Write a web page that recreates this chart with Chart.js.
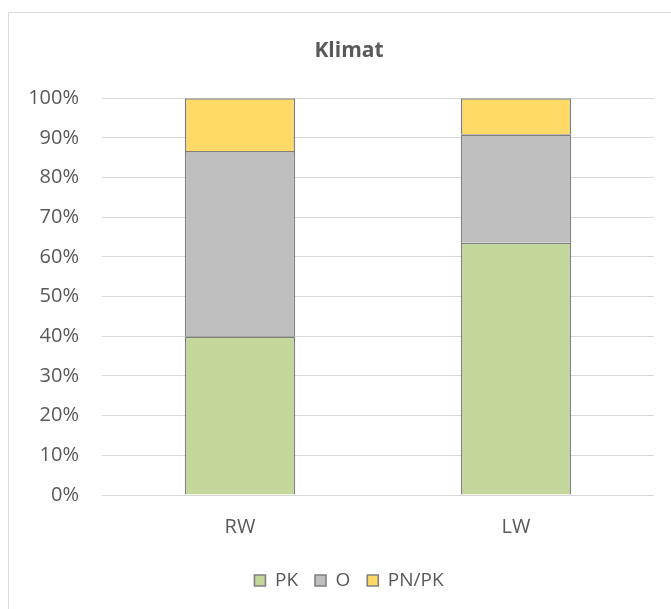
<!DOCTYPE html>
<html lang="sv">
<head>
  <meta charset="UTF-8" />
  <title>Klimat</title>
  <script src="https://cdn.jsdelivr.net/npm/chart.js"></script>
  <style>
    html, body { margin: 0; padding: 0; background: #fff; overflow: hidden; }
    #frame {
      position: absolute; left: 8px; top: 12px;
      width: 680px; height: 611px;
      border: 1px solid #d9d9d9;
    }
  </style>
</head>
<body>
  <div id="frame"><canvas id="chart"></canvas></div>

  <script>
    // data (percent of each bar)
    const categories = ["RW", "LW"];
    const seriesNames = ["PK", "O", "PN/PK"];
    const pkValues = [40.0, 63.6];
    const oValues = [46.7, 27.3];
    const pnpkValues = [13.3, 9.1];
    const yTicks = [0, 10, 20, 30, 40, 50, 60, 70, 80, 90, 100];

    const colors = ["#c4d79b", "#bfbfbf", "#ffd966"];
    const textColor = "#595959";
    const fontFamily = "'Open Sans', sans-serif";

    const series = [pkValues, oValues, pnpkValues];

    new Chart(document.getElementById("chart"), {
      type: "bar",
      data: {
        labels: categories,
        datasets: series.map((vals, i) => ({
          label: seriesNames[i],
          data: vals,
          backgroundColor: colors[i],
          borderColor: "#808080",
          borderWidth: 1.6,
          barPercentage: 0.4,
          categoryPercentage: 1
        }))
      },
      options: {
        responsive: true,
        maintainAspectRatio: false,
        animation: false,
        layout: { padding: { left: 0, right: 0, top: 0, bottom: 24 } },
        plugins: {
          title: {
            display: true,
            text: "Klimat",
            color: textColor,
            font: { family: fontFamily, size: 21, weight: "bold" },
            padding: { top: 25, bottom: 35 }
          },
          legend: {
            position: "bottom",
            labels: {
              color: textColor,
              font: { family: fontFamily, size: 19 },
              boxWidth: 11,
              boxHeight: 11,
              padding: 17
            }
          },
          tooltip: { enabled: false }
        },
        scales: {
          x: {
            stacked: true,
            grid: { display: false, drawTicks: false },
            border: { display: false },
            ticks: { color: textColor, font: { family: fontFamily, size: 20 }, padding: 20 },
            afterFit: (scale) => { scale.height -= 5; }
          },
          y: {
            stacked: true,
            min: 0,
            max: 100,
            afterBuildTicks: (scale) => { scale.ticks = yTicks.map(v => ({ value: v })); },
            grid: { color: "#d9d9d9", lineWidth: 1, drawTicks: false },
            border: { display: false },
            ticks: {
              color: textColor,
              font: { family: fontFamily, size: 20 },
              padding: 23,
              callback: (v) => v + "%"
            },
            afterFit: (scale) => { scale.width = 93; }
          },
          // empty right-hand spacer so the plot ends where the reference's does
          yRight: {
            position: "right",
            display: true,
            grid: { display: false, drawTicks: false },
            border: { display: false },
            ticks: { display: false },
            afterFit: (scale) => { scale.width = 35; }
          }
        }
      }
    });
  </script>
</body>
</html>
